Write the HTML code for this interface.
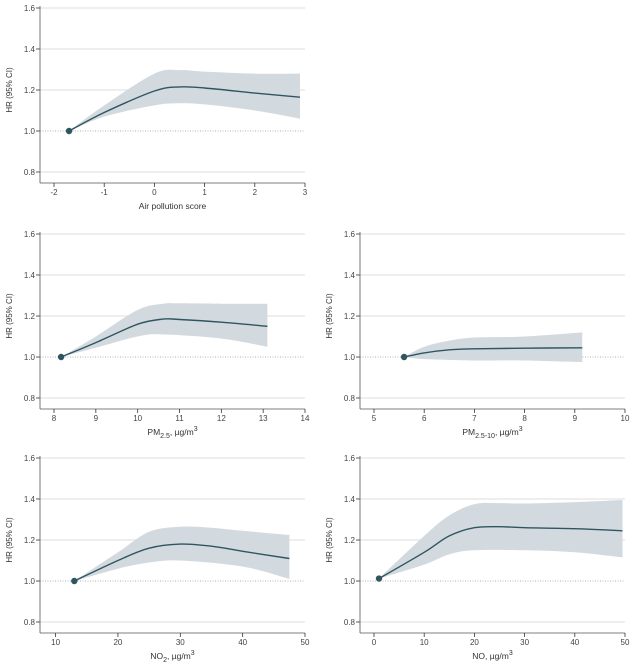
<!DOCTYPE html>
<html><head><meta charset="utf-8"><style>
html,body{margin:0;padding:0;background:#fff;}
svg{display:block;font-family:"Liberation Sans",sans-serif;}
</style></head><body>
<svg id="s" width="641" height="666" xmlns="http://www.w3.org/2000/svg">
<g id="g"></g>
</svg>
<script>
var P=[
 {ox:40,y16:8,x0:-2,x1:3,px0:54,px1:305,ticks:[-2,-1,0,1,2,3],lab:'Air pollution score',
  pt:[-1.7,1.0],
  line:[[-1.7,1.0],[-1,1.09],[0,1.195],[0.5,1.215],[1,1.21],[2,1.185],[2.9,1.165]],
  hi:[[-1.7,1.0],[-1,1.125],[0,1.28],[0.5,1.297],[1,1.29],[2,1.28],[2.9,1.28]],
  lo:[[-1.7,1.0],[-1,1.07],[0,1.125],[0.5,1.135],[1,1.13],[2,1.1],[2.9,1.06]]},
 {ox:40,y16:234,x0:8,x1:14,px0:54,px1:305,ticks:[8,9,10,11,12,13,14],lab:'PM<tspan font-size="7" dy="3">2.5</tspan><tspan dy="-3">, µg/m</tspan><tspan font-size="7" dy="-4">3</tspan>',
  pt:[8.17,1.0],
  line:[[8.17,1.0],[9,1.07],[10,1.16],[10.6,1.185],[11,1.183],[12,1.17],[13.1,1.15]],
  hi:[[8.17,1.0],[9,1.10],[10,1.23],[10.6,1.26],[11,1.262],[12,1.26],[13.1,1.26]],
  lo:[[8.17,1.0],[9,1.045],[10,1.10],[10.6,1.11],[12,1.09],[13.1,1.05]]},
 {ox:360,y16:234,x0:5,x1:10,px0:374,px1:625,ticks:[5,6,7,8,9,10],lab:'PM<tspan font-size="7" dy="3">2.5-10</tspan><tspan dy="-3">, µg/m</tspan><tspan font-size="7" dy="-4">3</tspan>',
  pt:[5.6,1.0],
  line:[[5.6,1.0],[6,1.02],[6.5,1.035],[7,1.04],[8,1.043],[9.15,1.045]],
  hi:[[5.6,1.0],[6,1.05],[6.5,1.08],[7,1.095],[8,1.1],[9.15,1.12]],
  lo:[[5.6,1.0],[6,0.99],[7,0.983],[8,0.983],[9.15,0.975]]},
 {ox:40,y16:458,x0:10,x1:50,px0:55.6,px1:305,ticks:[10,20,30,40,50],lab:'NO<tspan font-size="7" dy="3">2</tspan><tspan dy="-3">, µg/m</tspan><tspan font-size="7" dy="-4">3</tspan>',
  pt:[13,1.0],
  line:[[13,1.0],[20,1.1],[25,1.16],[30,1.18],[35,1.17],[40,1.145],[47.5,1.11]],
  hi:[[13,1.0],[20,1.14],[25,1.24],[30,1.265],[35,1.26],[40,1.245],[47.5,1.225]],
  lo:[[13,1.0],[20,1.06],[25,1.09],[30,1.1],[40,1.07],[47.5,1.01]]},
 {ox:360,y16:458,x0:0,x1:50,px0:374,px1:625,ticks:[0,10,20,30,40,50],lab:'NO, µg/m<tspan font-size="7" dy="-4">3</tspan>',
  pt:[1,1.012],
  line:[[1,1.012],[10,1.14],[15,1.22],[20,1.26],[25,1.265],[30,1.26],[40,1.255],[49.5,1.245]],
  hi:[[1,1.012],[10,1.22],[15,1.32],[20,1.375],[25,1.38],[30,1.378],[40,1.385],[49.5,1.395]],
  lo:[[1,1.012],[10,1.08],[15,1.13],[20,1.15],[30,1.15],[40,1.14],[49.5,1.115]]}
];
function cr(pts){var d='';for(var i=0;i<pts.length-1;i++){var p0=pts[i-1]||pts[i],p1=pts[i],p2=pts[i+1],p3=pts[i+2]||p2;
 var c1=[p1[0]+(p2[0]-p0[0])/6,p1[1]+(p2[1]-p0[1])/6],c2=[p2[0]-(p3[0]-p1[0])/6,p2[1]-(p3[1]-p1[1])/6];
 d+=(i==0?'M'+p1[0].toFixed(1)+','+p1[1].toFixed(1):'')+'C'+c1[0].toFixed(1)+','+c1[1].toFixed(1)+' '+c2[0].toFixed(1)+','+c2[1].toFixed(1)+' '+p2[0].toFixed(1)+','+p2[1].toFixed(1);}return d;}
var h='';
P.forEach(function(p){
 var X=function(v){return p.px0+(v-p.x0)*(p.px1-p.px0)/(p.x1-p.x0);};
 var Y=function(v){return p.y16+(1.6-v)/0.2*41;};
 var M=function(a){return a.map(function(q){return [X(q[0]),Y(q[1])];});};
 var bot=p.y16+175, right=p.px1;
 [1.6,1.4,1.2,0.8].forEach(function(v){h+='<line x1="'+p.ox+'" x2="'+right+'" y1="'+Y(v)+'" y2="'+Y(v)+'" stroke="#dcdcdc" stroke-width="1"/>';});
 h+='<line x1="'+p.ox+'" x2="'+right+'" y1="'+Y(1)+'" y2="'+Y(1)+'" stroke="#999" stroke-width="0.8" stroke-dasharray="1,1.5"/>';
 [1.6,1.4,1.2,1.0,0.8].forEach(function(v){h+='<line x1="'+(p.ox-4)+'" x2="'+p.ox+'" y1="'+Y(v)+'" y2="'+Y(v)+'" stroke="#333" stroke-width="0.8"/>';
  h+='<text x="'+(p.ox-5)+'" y="'+(Y(v)+3)+'" font-size="8" fill="#444" text-anchor="end">'+v.toFixed(1)+'</text>';});
 h+='<line x1="'+p.ox+'" x2="'+p.ox+'" y1="'+(p.y16-2)+'" y2="'+bot+'" stroke="#555" stroke-width="0.8"/>';
 h+='<line x1="'+p.ox+'" x2="'+right+'" y1="'+bot+'" y2="'+bot+'" stroke="#555" stroke-width="0.8"/>';
 p.ticks.forEach(function(t){var x=X(t);h+='<line x1="'+x+'" x2="'+x+'" y1="'+bot+'" y2="'+(bot+4)+'" stroke="#333" stroke-width="0.8"/>';
  h+='<text x="'+x+'" y="'+(bot+12)+'" font-size="8" fill="#444" text-anchor="middle">'+(t<0?'-'+(-t):t)+'</text>';});
 h+='<text x="'+((p.ox+right)/2)+'" y="'+(bot+26)+'" font-size="8.5" fill="#333" text-anchor="middle">'+p.lab+'</text>';
 h+='<text transform="translate('+(p.ox-28)+','+Y(1.2)+') rotate(-90)" font-size="8" fill="#333" text-anchor="middle">HR (95% CI)</text>';
 var hi=M(p.hi),lo=M(p.lo).reverse();
 var d=cr(hi)+'L'+lo[0][0].toFixed(1)+','+lo[0][1].toFixed(1)+cr(lo).replace(/^M[^C]*/,'')+'Z';
 h+='<path d="'+d+'" fill="#d3dadf"/>';
 h+='<path d="'+cr(M(p.line))+'" fill="none" stroke="#2f5560" stroke-width="1.4"/>';
 h+='<circle cx="'+X(p.pt[0])+'" cy="'+Y(p.pt[1])+'" r="3.2" fill="#2f5560"/>';
});
document.getElementById('g').innerHTML=h;
</script>
</body></html>
